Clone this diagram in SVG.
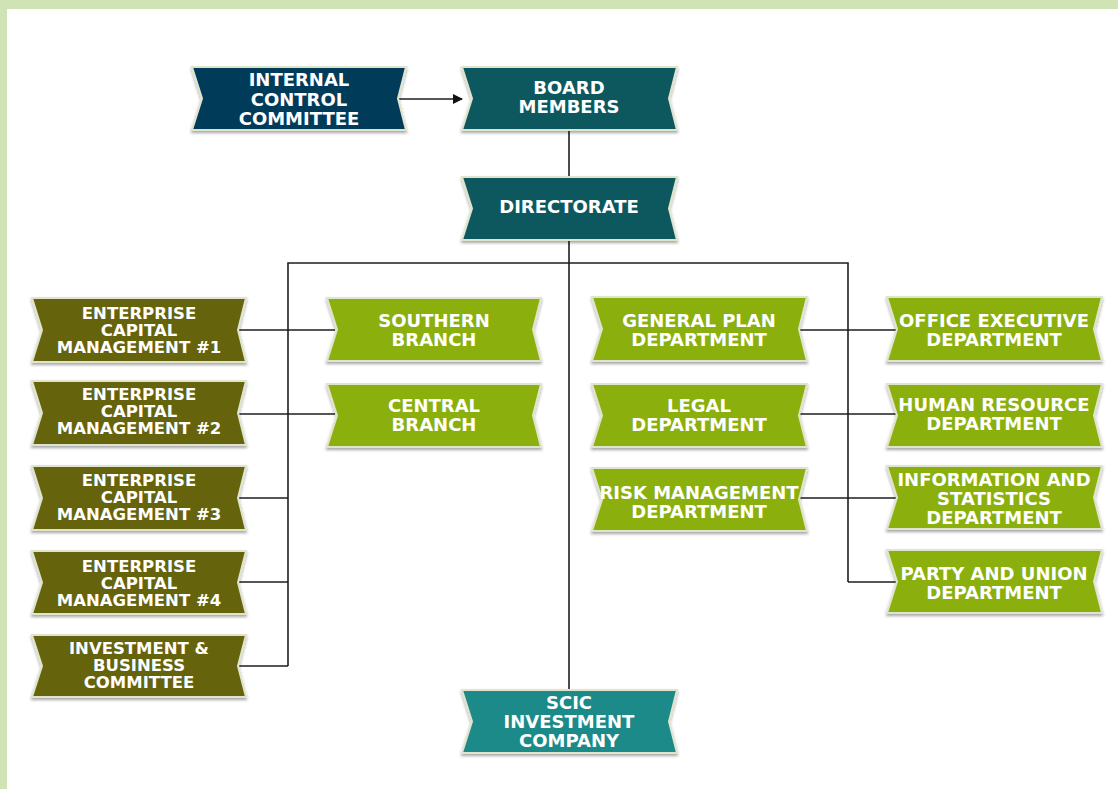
<svg xmlns="http://www.w3.org/2000/svg" width="1118" height="789" viewBox="0 0 1118 789">
  <style>
    .frame { fill: #cfe3b5; }
    .box { stroke: #dfe4cc; stroke-width: 2; stroke-linejoin: miter; filter: url(#shadow); }
    .navy { fill: #053a5a; }
    .teal { fill: #10585e; }
    .sea { fill: #1a8a88; }
    .olive { fill: #666409; }
    .lime { fill: #8bb00e; }
    .label { font-family: "DejaVu Sans", "Liberation Sans", sans-serif; font-weight: bold; fill: #ffffff; text-anchor: middle; font-size: 18px; }
    .small { font-size: 16.5px; }
    .link { fill: none; stroke: #1e1e1e; stroke-width: 1.6; }
  </style>
  <defs>
    <filter id="shadow" x="-10%" y="-20%" width="120%" height="150%">
      <feDropShadow dx="0" dy="2" stdDeviation="1.5" flood-color="#000" flood-opacity="0.35"/>
    </filter>
    <marker id="arrow" markerWidth="10" markerHeight="10" refX="9" refY="5" orient="auto" markerUnits="userSpaceOnUse">
      <path d="M0,0 L10,5 L0,10 Z" fill="#111"/>
    </marker>
  </defs>

  <rect width="1118" height="789" fill="#ffffff"/>
  <rect class="frame" x="0" y="0" width="1118" height="9"/>
  <rect class="frame" x="0" y="0" width="7" height="789"/>

  <!-- connectors -->
  <g id="connectors">
    <line class="link" x1="398" y1="99" x2="462" y2="99" marker-end="url(#arrow)"/>
    <line class="link" x1="569" y1="130" x2="569" y2="177"/>
    <line class="link" x1="569" y1="240" x2="569" y2="690"/>
    <polyline class="link" points="288,666 288,263 848,263 848,582"/>
    <line class="link" x1="238" y1="330" x2="335" y2="330"/>
    <line class="link" x1="238" y1="414" x2="335" y2="414"/>
    <line class="link" x1="238" y1="498" x2="288" y2="498"/>
    <line class="link" x1="238" y1="582" x2="288" y2="582"/>
    <line class="link" x1="238" y1="666" x2="288" y2="666"/>
    <line class="link" x1="799" y1="330" x2="896" y2="330"/>
    <line class="link" x1="799" y1="414" x2="896" y2="414"/>
    <line class="link" x1="799" y1="498" x2="896" y2="498"/>
    <line class="link" x1="848" y1="582" x2="896" y2="582"/>
  </g>

  <!-- top -->
  <g id="internal-control">
    <polygon class="box navy" points="192,67 406,67 398,98.5 406,130 192,130 202,98.5"/>
    <text class="label" x="299" y="86">INTERNAL</text>
    <text class="label" x="299" y="105.5">CONTROL</text>
    <text class="label" x="299" y="125">COMMITTEE</text>
  </g>
  <g id="board-members">
    <polygon class="box teal" points="462,67 677,67 669,98.5 677,130 462,130 472,98.5"/>
    <text class="label" x="569" y="93.5">BOARD</text>
    <text class="label" x="569" y="113">MEMBERS</text>
  </g>
  <g id="directorate">
    <polygon class="box teal" points="462,177 677,177 669,208.5 677,240 462,240 472,208.5"/>
    <text class="label" x="569" y="212.5">DIRECTORATE</text>
  </g>

  <!-- left column -->
  <g id="ecm-1">
    <polygon class="box olive" points="32,298 246,298 238,330 246,362 32,362 42,330"/>
    <text class="label small" x="139" y="319">ENTERPRISE</text>
    <text class="label small" x="139" y="336">CAPITAL</text>
    <text class="label small" x="139" y="353">MANAGEMENT #1</text>
  </g>
  <g id="ecm-2">
    <polygon class="box olive" points="32,381 246,381 238,413 246,445 32,445 42,413"/>
    <text class="label small" x="139" y="400">ENTERPRISE</text>
    <text class="label small" x="139" y="417">CAPITAL</text>
    <text class="label small" x="139" y="434">MANAGEMENT #2</text>
  </g>
  <g id="ecm-3">
    <polygon class="box olive" points="32,466 246,466 238,498 246,530 32,530 42,498"/>
    <text class="label small" x="139" y="486">ENTERPRISE</text>
    <text class="label small" x="139" y="503">CAPITAL</text>
    <text class="label small" x="139" y="520">MANAGEMENT #3</text>
  </g>
  <g id="ecm-4">
    <polygon class="box olive" points="32,551 246,551 238,582.5 246,614 32,614 42,582.5"/>
    <text class="label small" x="139" y="572">ENTERPRISE</text>
    <text class="label small" x="139" y="589">CAPITAL</text>
    <text class="label small" x="139" y="606">MANAGEMENT #4</text>
  </g>
  <g id="investment-business">
    <polygon class="box olive" points="32,635 246,635 238,666 246,697 32,697 42,666"/>
    <text class="label small" x="139" y="654">INVESTMENT &amp;</text>
    <text class="label small" x="139" y="671">BUSINESS</text>
    <text class="label small" x="139" y="688">COMMITTEE</text>
  </g>

  <!-- branches -->
  <g id="southern-branch">
    <polygon class="box lime" points="327,298 541,298 533,329.5 541,361 327,361 337,329.5"/>
    <text class="label" x="434" y="326.5">SOUTHERN</text>
    <text class="label" x="434" y="345.5">BRANCH</text>
  </g>
  <g id="central-branch">
    <polygon class="box lime" points="327,384 541,384 533,415.5 541,447 327,447 337,415.5"/>
    <text class="label" x="434" y="411.5">CENTRAL</text>
    <text class="label" x="434" y="430.5">BRANCH</text>
  </g>

  <!-- departments, inner column -->
  <g id="general-plan">
    <polygon class="box lime" points="592,297 807,297 799,329 807,361 592,361 602,329"/>
    <text class="label" x="699" y="326.5">GENERAL PLAN</text>
    <text class="label" x="699" y="345.5">DEPARTMENT</text>
  </g>
  <g id="legal">
    <polygon class="box lime" points="592,384 807,384 799,415.5 807,447 592,447 602,415.5"/>
    <text class="label" x="699" y="411.5">LEGAL</text>
    <text class="label" x="699" y="430.5">DEPARTMENT</text>
  </g>
  <g id="risk-management">
    <polygon class="box lime" points="592,468 807,468 799,499.5 807,531 592,531 602,499.5"/>
    <text class="label" x="699" y="498.5">RISK MANAGEMENT</text>
    <text class="label" x="699" y="517.5">DEPARTMENT</text>
  </g>

  <!-- departments, outer column -->
  <g id="office-executive">
    <polygon class="box lime" points="887,297 1102,297 1094,329 1102,361 887,361 897,329"/>
    <text class="label" x="994" y="326.5">OFFICE EXECUTIVE</text>
    <text class="label" x="994" y="345.5">DEPARTMENT</text>
  </g>
  <g id="human-resource">
    <polygon class="box lime" points="887,384 1102,384 1094,415.5 1102,447 887,447 897,415.5"/>
    <text class="label" x="994" y="410.5">HUMAN RESOURCE</text>
    <text class="label" x="994" y="429.5">DEPARTMENT</text>
  </g>
  <g id="information-statistics">
    <polygon class="box lime" points="887,466 1102,466 1094,497.5 1102,529 887,529 897,497.5"/>
    <text class="label" x="994" y="485.5">INFORMATION AND</text>
    <text class="label" x="994" y="504.5">STATISTICS</text>
    <text class="label" x="994" y="523.5">DEPARTMENT</text>
  </g>
  <g id="party-union">
    <polygon class="box lime" points="887,550 1102,550 1094,581.5 1102,613 887,613 897,581.5"/>
    <text class="label" x="994" y="579.5">PARTY AND UNION</text>
    <text class="label" x="994" y="598.5">DEPARTMENT</text>
  </g>

  <!-- bottom -->
  <g id="scic-investment">
    <polygon class="box sea" points="462,690 677,690 669,721.5 677,753 462,753 472,721.5"/>
    <text class="label" x="569" y="708.5">SCIC</text>
    <text class="label" x="569" y="727.5">INVESTMENT</text>
    <text class="label" x="569" y="746.5">COMPANY</text>
  </g>
</svg>
